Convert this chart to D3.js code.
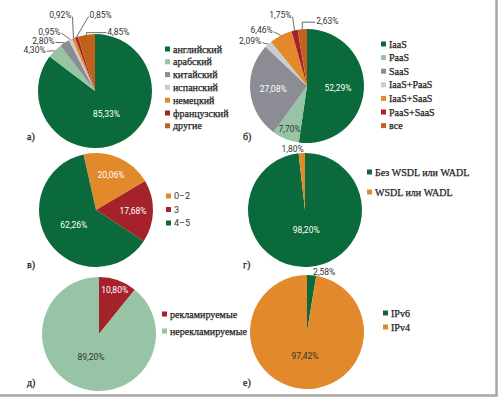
<!DOCTYPE html>
<html>
<head>
<meta charset="utf-8">
<script src="https://cdn.jsdelivr.net/npm/d3@7"></script>
<style>
  body { margin: 0; background: #fff; }
  svg { display: block; }
  .pct { font-family: Roboto, "DejaVu Sans", sans-serif; font-size: 8.5px; }
  .leg { font-family: "Liberation Serif", "DejaVu Serif", serif; font-size: 10px; fill: #222; stroke: #222; stroke-width: 0.25px; }
  .legsans { font-family: Roboto, sans-serif; font-size: 9px; fill: #333; }
  .tag { font-family: "Liberation Serif", serif; font-size: 10px; fill: #222; stroke: #222; stroke-width: 0.25px; }
</style>
</head>
<body>
<svg id="chart" width="500" height="400"></svg>
<script>
// data
const langCats = ["английский", "арабский", "китайский", "испанский", "немецкий", "французский", "другие"]
const langVals = [85.33, 4.30, 2.80, 0.95, 0.92, 0.85, 4.85]

const cloudCats = ["IaaS", "PaaS", "SaaS", "IaaS+PaaS", "IaaS+SaaS", "PaaS+SaaS", "все"]
const cloudVals = [52.29, 7.70, 27.08, 2.09, 6.46, 1.75, 2.63]

const scoreCats = ["0–2", "3", "4–5"]
const scoreVals = [20.06, 17.68, 62.26]

const wsdlCats = ["Без WSDL или WADL", "WSDL или WADL"]
const wsdlVals = [98.20, 1.80]

const adCats = ["рекламируемые", "нерекламируемые"]
const adVals = [10.80, 89.20]

const ipCats = ["IPv6", "IPv4"]
const ipVals = [2.58, 97.42]

const C = {
  green: "#0a6a3c", light: "#96c4a4", gray: "#8c8c94", pale: "#c9cdd1",
  orange: "#e2892c", red: "#a6222b", brown: "#c1611b"
}
const seven = [C.green, C.light, C.gray, C.pale, C.orange, C.red, C.brown]

const R = 57
const fmt = v => v.toFixed(2).replace(".", ",") + "%"

// layout of each panel (inner: [slice, radius, ink]; outer: [slice, dx, dy, anchor, line])
const panels = [
  { tag: "а)", tx: 27, ty: 140, cx: 95, cy: 91, cats: langCats, vals: langVals, colors: seven,
    lx: 165, ly: 49, step: 12.8, cls: "leg",
    inner: [[0, 26, "#fff"]],
    outer: [[1, -9, -1, "end", "line"], [2, -10, -2, "end", "line"], [3, -10, -8, "end", "line"],
            [4, -2, -23, "end", "line"], [5, 13, -22, "start", "line"], [6, 21, -3, "start", "elbow"]] },
  { tag: "б)", tx: 243, ty: 140, cx: 307, cy: 86, cats: cloudCats, vals: cloudVals, colors: seven,
    lx: 381, ly: 44, step: 13.6, cls: "leg",
    inner: [[0, 31, "#fff"], [1, 46, "#333"], [2, 34, "#fff"]],
    outer: [[3, -7, -3, "end", "line"], [4, -8, -5, "end", "line"], [5, -3, -15, "end", "line"],
            [6, 14, -8, "start", "elbow"]] },
  { tag: "в)", tx: 27, ty: 268, cx: 96, cy: 210, start: -12.7, cats: scoreCats, vals: scoreVals,
    colors: [C.orange, C.red, C.green],
    lx: 166, ly: 196, step: 13.5, cls: "legsans",
    inner: [[0, 38, "#fff"], [1, 37, "#fff"], [2, 27, "#fff"]], outer: [] },
  { tag: "г)", tx: 243, ty: 268, cx: 305, cy: 210, cats: wsdlCats, vals: wsdlVals,
    colors: [C.green, C.orange],
    lx: 367, ly: 172, step: 20, cls: "leg",
    inner: [[0, 20, "#fff"]], outer: [[1, 2, -4, "end", null]] },
  { tag: "д)", tx: 27, ty: 386, cx: 99, cy: 334, cats: adCats, vals: adVals,
    colors: [C.red, C.light],
    lx: 162, ly: 314, step: 17, cls: "leg",
    inner: [[0, 47, "#fff"], [1, 24, "#333"]], outer: [] },
  { tag: "е)", tx: 243, ty: 386, cx: 307, cy: 332, cats: ipCats, vals: ipVals,
    colors: [C.green, C.orange],
    lx: 383, ly: 313, step: 14, cls: "leg",
    inner: [[1, 24, "#333"]], outer: [[0, 1.5, -3, "start", null]] }
]

const svg = d3.select("#chart")

// frame on the right and bottom
svg.append("path")
  .attr("d", "M0,395.5H496.5V0")
  .attr("fill", "none")
  .attr("stroke", "#a8a8a8")
  .attr("stroke-width", 2.5)

const arc = d3.arc().innerRadius(0).outerRadius(R)
const rim = d3.arc().innerRadius(R).outerRadius(R)

panels.forEach(p => {
  const s = (p.start || 0) * Math.PI / 180
  const pie = d3.pie().sort(null).value(d => d).startAngle(s).endAngle(s + 2 * Math.PI)
  const slices = pie(p.vals)
  const g = svg.append("g").attr("transform", `translate(${p.cx},${p.cy})`)

  g.selectAll("path.slice")
    .data(slices)
    .enter().append("path")
      .attr("class", "slice")
      .attr("d", arc)
      .attr("fill", (d, i) => p.colors[i])

  // labels inside the slices
  p.inner.forEach(([i, r, ink]) => {
    const pos = d3.arc().innerRadius(r).outerRadius(r).centroid(slices[i])
    g.append("text")
      .attr("class", "pct")
      .attr("x", pos[0]).attr("y", pos[1])
      .attr("dy", "0.35em")
      .attr("text-anchor", "middle")
      .attr("fill", ink)
      .text(fmt(p.vals[i]))
  })

  // labels outside with leader lines
  p.outer.forEach(([i, dx, dy, anchor, kind]) => {
    const e = rim.centroid(slices[i])
    const t = [e[0] + dx, e[1] + dy]
    const gap = anchor == "end" ? 1 : -1
    if (kind == "line") {
      g.append("path")
        .attr("d", `M${e[0]},${e[1]}L${t[0] + gap},${t[1] + 1.5}`)
        .attr("fill", "none").attr("stroke", "#444").attr("stroke-width", 0.8)
    } else if (kind == "elbow") {
      g.append("path")
        .attr("d", `M${e[0]},${e[1]}V${t[1] + 1}H${t[0] + gap}`)
        .attr("fill", "none").attr("stroke", "#444").attr("stroke-width", 0.8)
    }
    g.append("text")
      .attr("class", "pct")
      .attr("x", t[0]).attr("y", t[1])
      .attr("dy", "0.35em")
      .attr("text-anchor", anchor)
      .attr("fill", "#333")
      .text(fmt(p.vals[i]))
  })

  // legend
  const leg = svg.append("g").attr("transform", `translate(${p.lx},${p.ly})`)
  const rows = leg.selectAll("g")
    .data(p.cats)
    .enter().append("g")
      .attr("transform", (d, i) => `translate(0,${i * p.step})`)
  rows.append("rect")
    .attr("x", 0).attr("y", -2.5)
    .attr("width", 5).attr("height", 5)
    .attr("fill", (d, i) => p.colors[i])
  rows.append("text")
    .attr("class", p.cls)
    .attr("x", 8).attr("y", 0)
    .attr("dy", "0.35em")
    .text(d => d)

  svg.append("text")
    .attr("class", "tag")
    .attr("x", p.tx).attr("y", p.ty)
    .text(p.tag)
})
</script>
</body>
</html>
